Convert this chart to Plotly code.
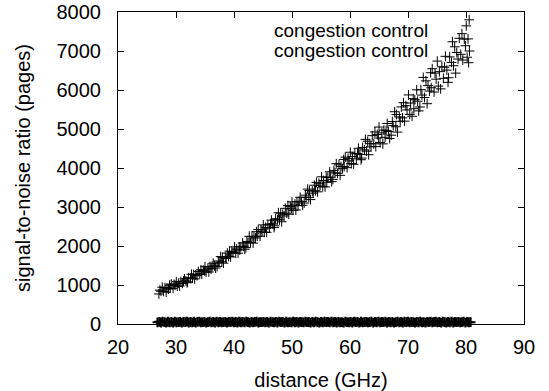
import plotly.graph_objects as go

# upper series: distance (GHz) vs signal-to-noise ratio (pages)
x_up = [
    27.05, 27.22, 27.41, 27.63, 27.84,
    28.1, 28.3, 28.45, 28.7, 28.9,
    29.0, 29.18, 29.5, 29.66, 29.85,
    30.05, 30.22, 30.41, 30.63, 30.84,
    31.1, 31.3, 31.45, 31.7, 31.9,
    32.0, 32.18, 32.5, 32.66, 32.85,
    33.05, 33.22, 33.41, 33.63, 33.84,
    34.1, 34.3, 34.45, 34.7, 34.9,
    35.0, 35.18, 35.5, 35.66, 35.85,
    36.05, 36.22, 36.41, 36.63, 36.84,
    37.1, 37.3, 37.45, 37.7, 37.9,
    38.0, 38.18, 38.5, 38.66, 38.85,
    39.05, 39.22, 39.41, 39.63, 39.84,
    40.1, 40.3, 40.45, 40.7, 40.9,
    41.0, 41.18, 41.5, 41.66, 41.85,
    42.05, 42.22, 42.41, 42.63, 42.84,
    43.1, 43.3, 43.45, 43.7, 43.9,
    44.0, 44.18, 44.5, 44.66, 44.85,
    45.05, 45.22, 45.41, 45.63, 45.84,
    46.1, 46.3, 46.45, 46.7, 46.9,
    47.0, 47.18, 47.5, 47.66, 47.85,
    48.05, 48.22, 48.41, 48.63, 48.84,
    49.1, 49.3, 49.45, 49.7, 49.9,
    50.0, 50.18, 50.5, 50.66, 50.85,
    51.05, 51.22, 51.41, 51.63, 51.84,
    52.1, 52.3, 52.45, 52.7, 52.9,
    53.0, 53.18, 53.5, 53.66, 53.85,
    54.05, 54.22, 54.41, 54.63, 54.84,
    55.1, 55.3, 55.45, 55.7, 55.9,
    56.0, 56.18, 56.5, 56.66, 56.85,
    57.05, 57.22, 57.41, 57.63, 57.84,
    58.1, 58.3, 58.45, 58.7, 58.9,
    59.0, 59.18, 59.5, 59.66, 59.85,
    60.05, 60.22, 60.41, 60.63, 60.84,
    61.1, 61.3, 61.45, 61.7, 61.9,
    62.0, 62.18, 62.5, 62.66, 62.85,
    63.05, 63.22, 63.41, 63.63, 63.84,
    64.1, 64.3, 64.45, 64.7, 64.9,
    65.0, 65.18, 65.5, 65.66, 65.85,
    66.05, 66.22, 66.41, 66.63, 66.84,
    67.1, 67.3, 67.45, 67.7, 67.9,
    68.0, 68.18, 68.5, 68.66, 68.85,
    69.05, 69.22, 69.41, 69.63, 69.84,
    70.1, 70.3, 70.45, 70.7, 70.9,
    71.0, 71.18, 71.5, 71.66, 71.85,
    72.05, 72.22, 72.41, 72.63, 72.84,
    73.1, 73.3, 73.45, 73.7, 73.9,
    74.0, 74.18, 74.5, 74.66, 74.85,
    75.05, 75.22, 75.41, 75.63, 75.84,
    76.1, 76.3, 76.45, 76.7, 76.9,
    77.0, 77.18, 77.5, 77.66, 77.85,
    78.05, 78.22, 78.41, 78.63, 78.84,
    79.1, 79.3, 79.45, 79.7, 79.9,
    80.05, 80.2, 80.35, 80.45, 80.55, 80.6,
]
y_up = [
    770, 868, 841, 943, 836,
    931, 817, 916, 895, 997,
    922, 1023, 916, 1016, 991,
    1085, 970, 1047, 972, 1086,
    1042, 1102, 1158, 1105, 1057,
    1082, 1186, 1174, 1276, 1173,
    1269, 1156, 1260, 1240, 1346,
    1285, 1390, 1275, 1384, 1363,
    1469, 1329, 1432, 1335, 1471,
    1411, 1483, 1557, 1491, 1435,
    1476, 1616, 1583, 1728, 1592,
    1710, 1560, 1712, 1680, 1819,
    1731, 1868, 1719, 1861, 1834,
    1977, 1815, 1921, 1816, 1979,
    1898, 1981, 2078, 1990, 1918,
    1958, 2117, 2083, 2248, 2091,
    2247, 2074, 2231, 2204, 2367,
    2250, 2422, 2250, 2419, 2382,
    2541, 2350, 2477, 2352, 2542,
    2463, 2566, 2663, 2564, 2475,
    2518, 2700, 2674, 2853, 2668,
    2841, 2622, 2814, 2771, 2966,
    2843, 3036, 2815, 3014, 2969,
    3133, 2917, 3074, 2923, 3133,
    3038, 3142, 3249, 3138, 3044,
    3101, 3304, 3249, 3458, 3247,
    3420, 3190, 3408, 3355, 3558,
    3418, 3631, 3389, 3608, 3559,
    3774, 3520, 3681, 3515, 3762,
    3635, 3759, 3903, 3764, 3650,
    3709, 3938, 3876, 4111, 3863,
    4082, 3811, 4038, 3983, 4216,
    4036, 4278, 4008, 4247, 4182,
    4404, 4115, 4291, 4096, 4363,
    4235, 4373, 4505, 4350, 4212,
    4255, 4527, 4465, 4734, 4432,
    4686, 4341, 4623, 4544, 4829,
    4621, 4924, 4549, 4858, 4769,
    5050, 4652, 4900, 4619, 4972,
    4788, 4963, 5142, 4935, 4756,
    4841, 5191, 5086, 5443, 5057,
    5370, 4921, 5309, 5197, 5566,
    5286, 5674, 5202, 5598, 5489,
    5874, 5375, 5665, 5327, 5778,
    5520, 5751, 6005, 5712, 5465,
    5564, 6009, 5870, 6323, 5808,
    6235, 5649, 6112, 5973, 6443,
    6058, 6545, 5949, 6433, 6278,
    6741, 6100, 6470, 6029, 6595,
    6299, 6586, 6863, 6510, 6197,
    6315, 6848, 6708, 7237, 6622,
    7108, 6433, 6962, 6795, 7326,
    6915, 7445, 6768, 7305, 7135,
    7645, 6840, 7310, 6700, 7800, 7000,
]

# lower series: flat, close to zero
x_low = [
    26.8, 27.1, 27.4, 27.7, 28.0, 28.3, 28.6, 28.9, 29.2, 29.5,
    29.8, 30.1, 30.4, 30.7, 31.0, 31.3, 31.6, 31.9, 32.2, 32.5,
    32.8, 33.1, 33.4, 33.7, 34.0, 34.3, 34.6, 34.9, 35.2, 35.5,
    35.8, 36.1, 36.4, 36.7, 37.0, 37.3, 37.6, 37.9, 38.2, 38.5,
    38.8, 39.1, 39.4, 39.7, 40.0, 40.3, 40.6, 40.9, 41.2, 41.5,
    41.8, 42.1, 42.4, 42.7, 43.0, 43.3, 43.6, 43.9, 44.2, 44.5,
    44.8, 45.1, 45.4, 45.7, 46.0, 46.3, 46.6, 46.9, 47.2, 47.5,
    47.8, 48.1, 48.4, 48.7, 49.0, 49.3, 49.6, 49.9, 50.2, 50.5,
    50.8, 51.1, 51.4, 51.7, 52.0, 52.3, 52.6, 52.9, 53.2, 53.5,
    53.8, 54.1, 54.4, 54.7, 55.0, 55.3, 55.6, 55.9, 56.2, 56.5,
    56.8, 57.1, 57.4, 57.7, 58.0, 58.3, 58.6, 58.9, 59.2, 59.5,
    59.8, 60.1, 60.4, 60.7, 61.0, 61.3, 61.6, 61.9, 62.2, 62.5,
    62.8, 63.1, 63.4, 63.7, 64.0, 64.3, 64.6, 64.9, 65.2, 65.5,
    65.8, 66.1, 66.4, 66.7, 67.0, 67.3, 67.6, 67.9, 68.2, 68.5,
    68.8, 69.1, 69.4, 69.7, 70.0, 70.3, 70.6, 70.9, 71.2, 71.5,
    71.8, 72.1, 72.4, 72.7, 73.0, 73.3, 73.6, 73.9, 74.2, 74.5,
    74.8, 75.1, 75.4, 75.7, 76.0, 76.3, 76.6, 76.9, 77.2, 77.5,
    77.8, 78.1, 78.4, 78.7, 79.0, 79.3, 79.6, 79.9, 80.2, 80.5,
    80.8,
]
y_low = [
    42, 55, 38, 61, 47, 33, 58, 44, 52, 36,
    63, 41, 49, 57, 35, 54, 46, 60, 39, 51,
    44, 58, 37, 53, 62, 40, 48, 56, 34, 50,
    59, 43, 52, 38, 61, 45, 55, 41, 49, 57,
    36, 53, 47, 60, 42, 51, 39, 58, 45, 54,
    40, 62, 48, 35, 56, 44, 52, 59, 38, 50,
    46, 57, 41, 54, 37, 61, 49, 43, 55, 39,
    60, 47, 52, 36, 58, 44, 50, 42, 63, 45,
    53, 38, 57, 48, 41, 59, 46, 51, 35, 56,
    43, 60, 49, 37, 55, 42, 58, 47, 52, 40,
    61, 45, 53, 38, 57, 44, 50, 36, 59, 48,
    42, 55, 39, 61, 46, 52, 37, 58, 44, 50,
    56, 41, 48, 62, 37, 53, 45, 59, 40, 51,
    47, 60, 38, 54, 43, 57, 35, 50, 61, 44,
    52, 39, 58, 46, 63, 41, 55, 48, 36, 53,
    45, 59, 42, 50, 37, 56, 49, 61, 40, 54,
    58, 43, 51, 36, 60, 47, 39, 55, 44, 62,
    38, 53, 46, 57, 41, 50, 59, 35, 52, 45,
    48,
]

series_names = ["congestion control", "congestion control"]
x_ticks = [20, 30, 40, 50, 60, 70, 80, 90]
y_ticks = [0, 1000, 2000, 3000, 4000, 5000, 6000, 7000, 8000]

FONT = "Liberation Sans, Arial, Helvetica, sans-serif"
FS = 20
marker_up = dict(symbol="cross-thin", size=7, color="black",
                 line=dict(color="black", width=1))
marker_low = dict(symbol="cross-thin", size=7, color="black",
                  line=dict(color="black", width=2))

fig = go.Figure()
fig.add_trace(go.Scatter(x=x_up, y=y_up, mode="markers", name=series_names[0],
                         marker=marker_up, cliponaxis=False))
fig.add_trace(go.Scatter(x=x_low, y=y_low, mode="markers", name=series_names[1],
                         marker=marker_low, cliponaxis=False))

axis_common = dict(
    showgrid=False, zeroline=False, showline=True, linecolor="black",
    linewidth=1, mirror="ticks", ticks="inside", ticklen=6,
    tickcolor="black", tickwidth=1,
    tickfont=dict(family=FONT, size=FS, color="black"),
)
fig.update_xaxes(range=[20, 90], tickvals=x_ticks, ticklabelstandoff=5,
                 title=dict(text="distance (GHz)", standoff=16,
                            font=dict(family=FONT, size=FS, color="black")),
                 **axis_common)
fig.update_yaxes(range=[0, 8000], tickvals=y_ticks, ticklabelstandoff=12,
                 title=dict(text="signal-to-noise ratio (pages)", standoff=20,
                            font=dict(family=FONT, size=FS, color="black")),
                 **axis_common)

for i, name in enumerate(series_names):
    fig.add_annotation(text=name, xref="paper", yref="paper",
                       x=(430 - 118) / (524 - 118), y=1 - (30 + 20 * i - 12) / 312,
                       xanchor="right", yanchor="middle", showarrow=False,
                       font=dict(family=FONT, size=19, color="black"))

fig.update_layout(
    width=549, height=391, showlegend=False,
    margin=dict(l=118, r=25, t=12, b=67, autoexpand=False),
    plot_bgcolor="white", paper_bgcolor="white",
)
fig.write_html("out.html")
